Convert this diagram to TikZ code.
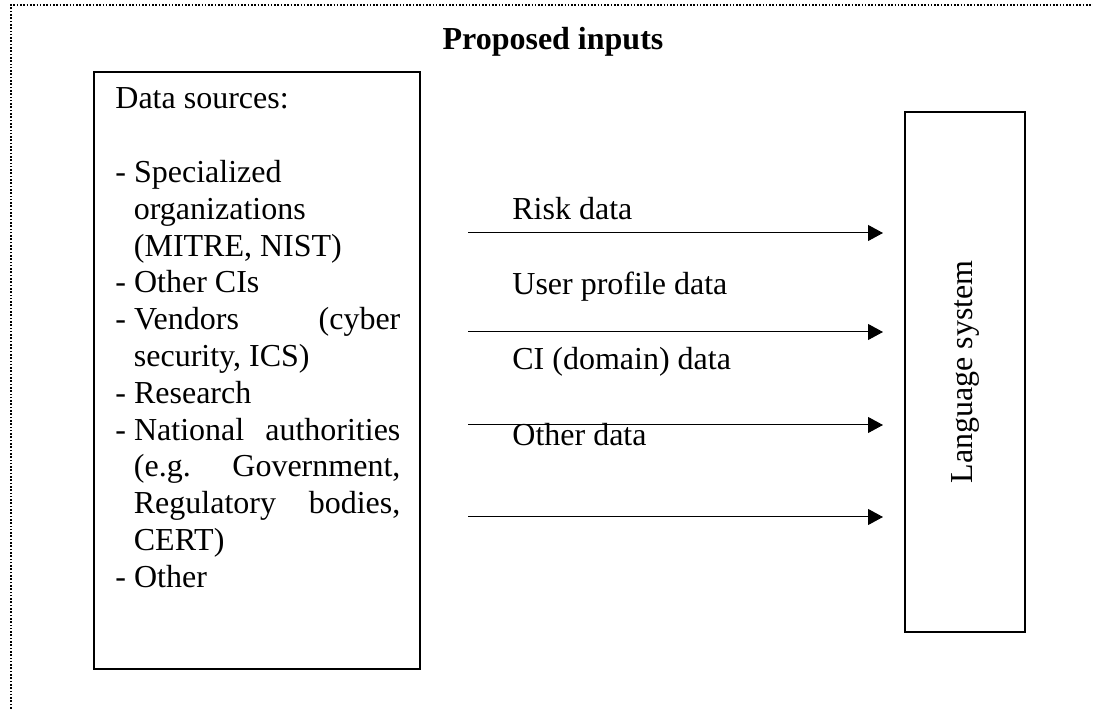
\documentclass[tikz,border=0pt]{standalone}
\usepackage{fontspec}
\setmainfont{Liberation Serif}
\usetikzlibrary{arrows.meta}
\begin{document}
\begin{tikzpicture}[x=0.5pt,y=-0.5pt,
  frame/.style={line width=0.8pt, dash pattern=on 0.8pt off 0.85pt},
  box/.style={draw, line width=0.9pt, inner sep=0pt},
  txt/.style={anchor=base west, inner sep=0pt, font=\fontsize{16pt}{18.4pt}\selectfont},
  flow/.style={-{Triangle[length=7.5pt,width=8pt]}, line width=0.5pt}]
\useasboundingbox (0,0) rectangle (1093,710);
% dotted frame
\coordinate (fl) at (11,712);
\coordinate (fc) at (11,5);
\coordinate (fr) at (1095,5);
\draw[frame] (fl) -- (fc) -- (fr);
% title
\node[anchor=base, inner sep=0pt, font=\fontsize{16pt}{18.4pt}\selectfont\bfseries] (title) at (553,50) {Proposed inputs};
% left box
\node[box, minimum width=163pt, minimum height=298.5pt] (src) at (257,370.5) {};
\node[txt] (l0) at (115,109) {Data sources:};
\node[txt] (l2) at (115,182.6) {- Specialized};
\node[txt] (l3) at (133.5,219.4) {organizations};
\node[txt] (l4) at (133.5,256.2) {(MITRE, NIST)};
\node[txt] (l5) at (115,293) {- Other CIs};
\node[txt] (l6) at (115,329.8) {\makebox[142.5pt][s]{-\hspace{4pt}Vendors (cyber}};
\node[txt] (l7) at (133.5,366.6) {security, ICS)};
\node[txt] (l8) at (115,403.4) {- Research};
\node[txt] (l9) at (115,440.2) {\makebox[142.5pt][s]{-\hspace{4pt}National authorities}};
\node[txt] (l10) at (133.5,477) {\makebox[133.25pt][s]{(e.g. Government,}};
\node[txt] (l11) at (133.5,513.8) {\makebox[133.25pt][s]{Regulatory bodies,}};
\node[txt] (l12) at (133.5,550.6) {CERT)};
\node[txt] (l13) at (115,587.4) {- Other};
% right box
\node[box, rotate=90, minimum width=260pt, minimum height=60pt, font=\fontsize{16pt}{18.4pt}\selectfont] (lang) at (965,372) {Language system};
% arrows
\coordinate (a1) at (468,233);
\coordinate (b1) at (883,233);
\coordinate (a2) at (468,332);
\coordinate (b2) at (883,332);
\coordinate (a3) at (468,425);
\coordinate (b3) at (883,425);
\coordinate (a4) at (468,517);
\coordinate (b4) at (883,517);
\draw[flow] (a1) -- (b1);
\draw[flow] (a2) -- (b2);
\draw[flow] (a3) -- (b3);
\draw[flow] (a4) -- (b4);
% labels
\node[txt] (t1) at (512,220) {Risk data};
\node[txt] (t2) at (512,295) {User profile data};
\node[txt] (t3) at (512,370) {CI (domain) data};
\node[txt] (t4) at (512,446) {Other data};
\end{tikzpicture}
\end{document}
